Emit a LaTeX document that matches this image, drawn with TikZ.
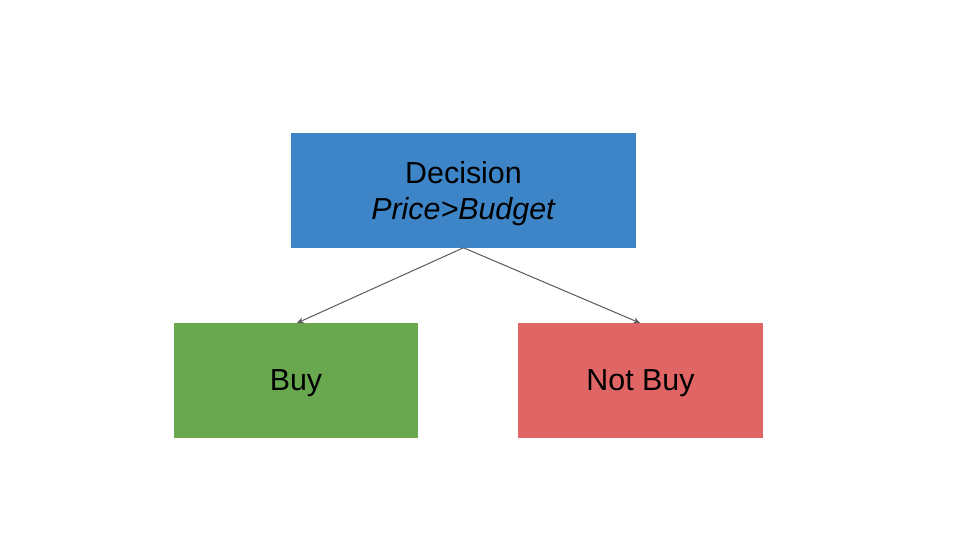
\documentclass[tikz,border=0pt]{standalone}
\usepackage{fontspec}
\setmainfont{Liberation Sans}
\usetikzlibrary{arrows.meta}
\definecolor{gblue}{HTML}{3D85C6}
\definecolor{ggreen}{HTML}{6AA84F}
\definecolor{gred}{HTML}{E06666}
\definecolor{garrow}{HTML}{595959}
\begin{document}
\begin{tikzpicture}[x=0.75pt,y=-0.75pt,
  box/.style={draw=none,minimum width=#1,minimum height=86.25pt,inner sep=0pt},
  txt/.style={inner sep=0pt,align=center,font=\fontsize{22.8}{27.5}\selectfont},
  conn/.style={draw=garrow,line width=0.75pt,-{Stealth[length=5pt,width=4.5pt]}}]
\useasboundingbox (0,0) rectangle (960,540);
\node[box=258.75pt,fill=gblue] (dec) at (463.5,190) {};
\node[txt] (dectxt) at (463.5,193.5) {Decision\\\textit{Price>Budget}};
\node[box=183pt,fill=ggreen] (buy) at (296,380.5) {};
\node[txt] (buytxt) at (296,383) {Buy};
\node[box=183.75pt,fill=gred] (nbuy) at (640.5,380.5) {};
\node[txt] (nbuytxt) at (640.5,383) {Not Buy};
\coordinate (e1) at (297,323);
\coordinate (e2) at (640,323);
\draw[conn] (dec.south) -- (e1);
\draw[conn] (dec.south) -- (e2);
\end{tikzpicture}
\end{document}
